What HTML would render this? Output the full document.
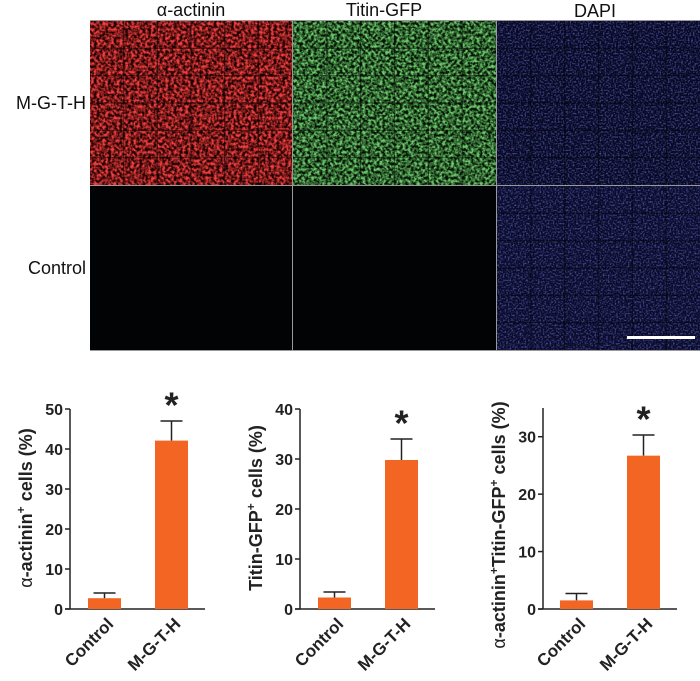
<!DOCTYPE html>
<html><head><meta charset="utf-8"><style>
body{margin:0;background:#fff;width:700px;height:681px;overflow:hidden;font-family:"Liberation Sans",sans-serif}
svg{position:absolute;left:0;top:0}
</style></head><body>
<svg width="700" height="681" viewBox="0 0 700 681">
<defs>
<filter id="nred" x="0" y="0" width="100%" height="100%"><feTurbulence type="fractalNoise" baseFrequency="0.35" numOctaves="2" seed="3"/><feColorMatrix values="0 0 0 0 0.9  0 0 0 0 0.05  0 0 0 0 0.05  2.6 0 0 0 -0.85"/></filter>
<filter id="ngreen" x="0" y="0" width="100%" height="100%"><feTurbulence type="fractalNoise" baseFrequency="0.35" numOctaves="2" seed="7"/><feColorMatrix values="0 0 0 0 0.15  0 0 0 0 0.6  0 0 0 0 0.15  2.6 0 0 0 -0.85"/></filter>
<filter id="nblue" x="0" y="0" width="100%" height="100%"><feTurbulence type="fractalNoise" baseFrequency="0.6" numOctaves="1" seed="5"/><feColorMatrix values="0 0 0 0 0.15  0 0 0 0 0.2  0 0 0 0 0.7  1.8 0 0 0 -0.8"/></filter>
</defs>
<g font-size="18" fill="#111" text-anchor="middle">
<text x="191" y="16">α-actinin</text>
<text x="384" y="16">Titin-GFP</text>
<text x="595" y="17">DAPI</text>
</g>
<g font-size="18" fill="#111" text-anchor="end">
<text x="86" y="109">M-G-T-H</text>
<text x="86" y="274">Control</text>
</g>
<g>
<rect x="90" y="20" width="610" height="331" fill="#999"/>
<rect x="90" y="21" width="202" height="164" fill="#200000"/>
<rect x="90" y="21" width="202" height="164" filter="url(#nred)"/>
<rect x="293" y="21" width="203" height="164" fill="#031203"/>
<rect x="293" y="21" width="203" height="164" filter="url(#ngreen)"/>
<rect x="497" y="21" width="203" height="164" fill="#080824"/>
<rect x="497" y="21" width="203" height="164" filter="url(#nblue)"/>
<rect x="90" y="186" width="202" height="164" fill="#020304"/>
<rect x="293" y="186" width="203" height="164" fill="#020304"/>
<rect x="497" y="186" width="203" height="164" fill="#0a0a2a"/>
<rect x="497" y="186" width="203" height="164" filter="url(#nblue)"/>
<g stroke="#000" stroke-opacity="0.5" stroke-width="1.2" id="gl"></g>
<rect x="627" y="336" width="68" height="3" fill="#fff"/>
</g>
<g id="charts"></g>
</svg>
<script>
const categories=["Control","M-G-T-H"];
const actininValues=[2.7,42.1];
const actininErrors=[1.3,4.9];
const titinValues=[2.3,29.8];
const titinErrors=[1.1,4.2];
const doubleValues=[1.5,26.7];
const doubleErrors=[1.2,3.6];
const actininTicks=[0,10,20,30,40,50];
const titinTicks=[0,10,20,30,40];
const doubleTicks=[0,10,20,30];
const NS="http://www.w3.org/2000/svg";
function mk(t,a,p){const e=document.createElementNS(NS,t);for(const k in a)e.setAttribute(k,a[k]);p.appendChild(e);return e;}
const gl=document.getElementById('gl');
[[90,21,202,164],[293,21,203,164],[497,21,203,164],[497,186,203,164]].forEach(r=>{
 for(let i=1;i<6;i++){const x=r[0]+r[2]*i/6;const l=mk('line',{x1:x,y1:r[1],x2:x,y2:r[1]+r[3]},gl);
 
 }
 for(let i=1;i<6;i++){const y=r[1]+r[3]*i/6;const l=mk('line',{x1:r[0],y1:y,x2:r[0]+r[2],y2:y},gl);
 
 }
});
const charts=document.getElementById('charts');
function chart(name,ax,axEnd,y0,yTop,maxV,ticks,vals,errs,barX,titleParts,titleY){
 const g=mk('g',{},charts);
 
 
 const sy=v=>y0-(v/maxV)*(y0-yTop);
 const yaxis=mk('line',{x1:ax,y1:y0,x2:ax,y2:yTop,stroke:'#222','stroke-width':1.5},g);
 
 
 const xaxis=mk('line',{x1:ax-5,y1:y0,x2:axEnd,y2:y0,stroke:'#222','stroke-width':1.5},g);
 
 
 ticks.forEach(t=>{
  const tk=mk('line',{x1:ax-5,y1:sy(t),x2:ax,y2:sy(t),stroke:'#222','stroke-width':1.5},g);
  
  
  const tx=mk('text',{x:ax-7,y:sy(t)+6,'text-anchor':'end','font-size':16,'font-weight':'bold',fill:'#222'},g);
  tx.textContent=t;
  
  
 });
 vals.forEach((v,i)=>{
  const x=barX[i],w=33;
  const top=sy(v+errs[i]);
  const e=mk('path',{d:`M${x+w/2} ${sy(v)}V${top}M${x+w/2-11} ${top}H${x+w/2+11}`,stroke:'#222','stroke-width':1.5,fill:'none'},g);
  
  
  const b=mk('rect',{x:x,y:sy(v),width:w,height:y0-sy(v),fill:'#f26522'},g);
  
  
  const lx=x+w/2+10, ly=y0+16;
  const lt=mk('text',{x:lx,y:ly,'text-anchor':'end','font-size':17,'font-weight':'bold',fill:'#222',transform:`rotate(-45 ${lx} ${ly})`},g);
  lt.textContent=categories[i];
  
  
  if(i===1){const s=mk('text',{x:x+w/2,y:top+20,'text-anchor':'middle','font-size':36,'font-weight':'bold',fill:'#222'},g);
   s.setAttribute('y',top+18);
   s.setAttribute('dy','-0.6em');
   s.textContent='*';
   
   }
 });
 const cy=titleY, cx=ax-38;
 const tt=mk('text',{x:cx,y:cy,'text-anchor':'middle','font-size':18,fill:'#222',transform:`rotate(-90 ${cx} ${cy})`},g);
 
 
 titleParts.forEach(p=>{const s=mk('tspan',p[1]?{'baseline-shift':'super','font-size':12,'font-weight':'bold'}:{'font-weight':p[2]?'normal':'bold'},tt);s.textContent=p[0];});
}
chart('actinin-chart',70,205,609,409,50,actininTicks,actininValues,actininErrors,[88,155],[['α',0,1],['-actinin',0],['+',1],[' cells (%)',0]],508);
chart('titin-chart',300,435,609,409,40,titinTicks,titinValues,titinErrors,[318,385],[['Titin-GFP',0],['+',1],[' cells (%)',0]],508);
chart('double-positive-chart',543,677,609,408,35,doubleTicks,doubleValues,doubleErrors,[560,627],[['α',0,1],['-actinin',0],['+',1],['Titin-GFP',0],['+',1],[' cells (%)',0]],525);
</script>
</body></html>
